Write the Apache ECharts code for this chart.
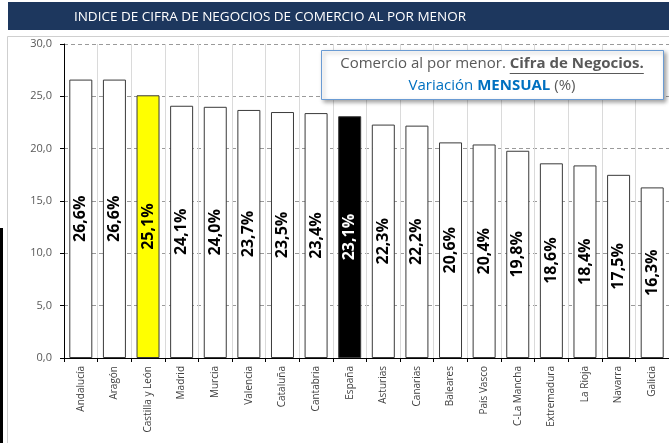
<!DOCTYPE html>
<html>
<head>
<meta charset="utf-8">
<script src="https://cdn.jsdelivr.net/npm/echarts@6/dist/echarts.min.js"></script>
<style>
  html, body { margin: 0; padding: 0; background: #fff; }
  #chart { width: 669px; height: 443px; }
</style>
</head>
<body>
<div id="chart"></div>
<script>
// Índice de cifra de negocios - variación mensual por comunidad
const categories = ['Andalucía', 'Aragón', 'Castilla y León', 'Madrid', 'Murcia', 'Valencia', 'Cataluña',
    'Cantabria', 'España', 'Asturias', 'Canarias', 'Baleares', 'País Vasco', 'C-La Mancha',
    'Extremadura', 'La Rioja', 'Navarra', 'Galicia'];
const values = [26.6, 26.6, 25.1, 24.1, 24.0, 23.7, 23.5, 23.4, 23.1, 22.3, 22.2, 20.6, 20.4, 19.8, 18.6, 18.4, 17.5, 16.3];
const titleText = 'INDICE DE CIFRA DE NEGOCIOS DE COMERCIO AL POR MENOR';

const FONT = '"Open Sans", "Noto Sans", sans-serif';
const fmt = v => v.toFixed(1).replace('.', ',');

function barStyle(name) {
    if (name === 'Castilla y León') return { fill: '#FFFF00', label: '#000' };
    if (name === 'España') return { fill: '#000000', label: '#fff' };
    return { fill: '#ffffff', label: '#000' };
}

// medir texto para subrayar "Cifra de Negocios."
const ctx = document.createElement('canvas').getContext('2d');
function textW(t, weight, size) {
    ctx.font = weight + ' ' + size + 'px "Open Sans"';
    return ctx.measureText(t).width;
}
const legSize = 15;
const part1 = 'Comercio al por menor. ';
const part2 = 'Cifra de Negocios.';
const w1 = textW(part1, 'normal', legSize);
const w2 = textW(part2, 'bold', legSize);
const legCx = 492;
const lineStart = legCx - (w1 + w2) / 2;

const chart = echarts.init(document.getElementById('chart'));
chart.setOption({
    animation: false,
    grid: { left: 64, right: -3, top: 44, bottom: 85 },
    xAxis: {
        type: 'category',
        data: categories,
        axisLine: { lineStyle: { color: '#000', width: 1 } },
        axisTick: { show: true, length: 4, lineStyle: { color: '#000' } },
        splitLine: { show: true, interval: 0, lineStyle: { color: '#DADADA', width: 1 } },
        axisLabel: {
            interval: 0, rotate: 90, margin: 8,
            fontFamily: FONT, fontSize: 10, color: '#404040'
        }
    },
    yAxis: {
        type: 'value',
        min: 0, max: 30, interval: 5,
        axisLine: { show: true, lineStyle: { color: '#000', width: 1 } },
        axisTick: { show: true, length: 4, lineStyle: { color: '#000' } },
        splitLine: { show: true, lineStyle: { color: '#9A9A9A', type: [4, 3] } },
        axisLabel: {
            formatter: v => fmt(v), margin: 12,
            fontFamily: FONT, fontSize: 11, color: '#595959'
        }
    },
    series: [{
        type: 'bar',
        barWidth: 23,
        data: values.map((v, i) => {
            const s = barStyle(categories[i]);
            return {
                value: v,
                itemStyle: { color: s.fill, borderColor: '#3A3A3A', borderWidth: 1 },
                label: { color: s.label }
            };
        }),
        label: {
            show: true, position: 'inside', rotate: 90,
            formatter: p => fmt(p.value) + '%',
            fontFamily: FONT, fontSize: 16, fontWeight: 'bold'
        }
    }],
    graphic: [
        { type: 'rect', z: -10, shape: { x: 7.5, y: 36.5, width: 700, height: 500 },
          style: { fill: '#fff', stroke: '#CFCFCF', lineWidth: 1 } },
        { type: 'rect', shape: { x: 0, y: 228, width: 3, height: 215 }, style: { fill: '#000' } },
        { type: 'rect', shape: { x: 8, y: 2, width: 661, height: 28 }, style: { fill: '#1D375E' } },
        { type: 'text', x: 270, y: 17,
          style: { text: titleText, fill: '#fff', font: '13.5px ' + FONT, align: 'center', verticalAlign: 'middle' } },
        { type: 'rect', z: 100, shape: { x: 321.5, y: 50.5, width: 342, height: 49 },
          style: { fill: '#fff', stroke: '#6A9BD3', lineWidth: 1,
                   shadowBlur: 4, shadowOffsetX: 2, shadowOffsetY: 2, shadowColor: 'rgba(0,0,0,0.35)' } },
        { type: 'text', z: 101, x: legCx, y: 64,
          style: {
              text: '{a|' + part1 + '}{b|' + part2 + '}',
              align: 'center', verticalAlign: 'middle',
              rich: {
                  a: { fontFamily: FONT, fontSize: legSize, fill: '#595959' },
                  b: { fontFamily: FONT, fontSize: legSize, fontWeight: 'bold', fill: '#595959' }
              }
          } },
        { type: 'line', z: 101, shape: { x1: lineStart + w1, y1: 73.5, x2: lineStart + w1 + w2, y2: 73.5 },
          style: { stroke: '#595959', lineWidth: 1 } },
        { type: 'text', z: 101, x: legCx, y: 86,
          style: {
              text: '{a|Variación }{b|MENSUAL}{c| (%)}',
              align: 'center', verticalAlign: 'middle',
              rich: {
                  a: { fontFamily: FONT, fontSize: legSize, fill: '#0070C0' },
                  b: { fontFamily: FONT, fontSize: legSize, fontWeight: 'bold', fill: '#0070C0' },
                  c: { fontFamily: FONT, fontSize: legSize, fill: '#595959' }
              }
          } }
    ]
});
window.addEventListener('resize', () => chart.resize());
</script>
</body>
</html>
